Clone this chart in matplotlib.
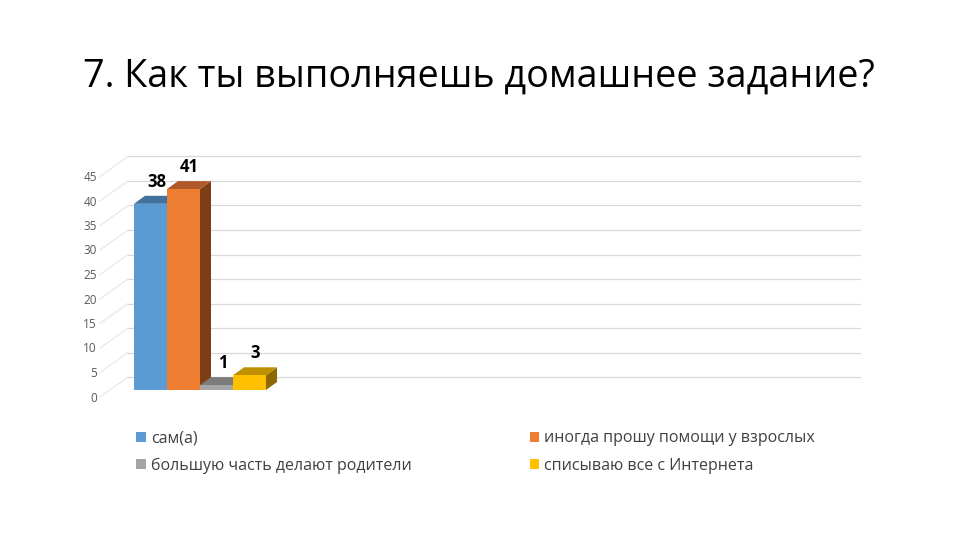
import matplotlib.pyplot as plt
from matplotlib.patches import Polygon, Patch

plt.rcParams['font.family'] = ['Open Sans', 'DejaVu Sans']

title = '7. Как ты выполняешь домашнее задание?'
categories = ['сам(а)', 'иногда прошу помощи у взрослых',
              'большую часть делают родители', 'списываю все с Интернета']
values = [38, 41, 1, 3]
yticks = [0, 5, 10, 15, 20, 25, 30, 35, 40, 45]

front = ['#5B9BD5', '#ED7D31', '#A5A5A5', '#FFC000']
top = ['#41719C', '#B0582A', '#7C7C7C', '#BF9000']
side = ['#2E5C85', '#7E3D14', '#606060', '#8C6A00']

fig = plt.figure(figsize=(9.6, 5.4), dpi=100)
fig.patch.set_facecolor('white')

# plot area: value 0 at pixel y=390, 50 at y=145; x from 134 to 860 px
px_x = 33.0            # pixels per x unit (one bar width)
px_y = 245.0 / 50      # pixels per value unit
ax = fig.add_axes([134 / 960, 150 / 540, 726 / 960, 245 / 540])
ax.set_xlim(0, 726 / px_x)
ax.set_ylim(0, 50)
ax.axis('off')

# depth offsets
bdx, bdy = 11 / px_x, 8 / px_y        # bar depth
wdy = 13 / px_y                       # back wall offset
wx0 = -6 / px_x                       # back wall left edge
lx = -34 / px_x                       # front-left edge

for v in yticks:
    ax.plot([wx0, 726 / px_x], [v + wdy, v + wdy], color='#D9D9D9', lw=0.9,
            clip_on=False, zorder=1)
    ax.plot([lx, wx0], [v + wdy - 20 / px_y, v + wdy], color='#E6E6E6', lw=0.8,
            clip_on=False, zorder=1)
    ax.text(-37 / px_x, v + wdy - 21 / px_y, str(v), ha='right', va='center',
            fontsize=8.5, color='#595959')

for i, v in enumerate(values):
    x0, x1 = i, i + 1
    ax.add_patch(Polygon([(x1, 0), (x1 + bdx, bdy), (x1 + bdx, v + bdy), (x1, v)],
                         closed=True, facecolor=side[i], edgecolor='none', zorder=2 + i))
    ax.add_patch(Polygon([(x0, v), (x0 + bdx, v + bdy), (x1 + bdx, v + bdy), (x1, v)],
                         closed=True, facecolor=top[i], edgecolor='none', zorder=2 + i))
    ax.bar(x0 + 0.5, v, width=1, color=front[i], zorder=2 + i)
    ax.text(x0 + 0.5 + 6 / px_x, v + 22 / px_y, str(v), ha='center', va='center',
            fontsize=12, fontweight='bold', color='black', zorder=10)

fig.text(83 / 960, 1 - 87 / 540, title, fontsize=27.2, color='black',
         ha='left', va='baseline')

order = [0, 2, 1, 3]
handles = [Patch(facecolor=front[k], edgecolor='none') for k in order]
labels = [categories[k] for k in order]
fig.legend(handles, labels, ncol=2, loc='upper left',
           bbox_to_anchor=(122 / 960, 1 - 416 / 540), frameon=False,
           fontsize=11.5, labelcolor='#404040', handlelength=0.6, handleheight=0.6,
           handletextpad=0.3, columnspacing=7.4, labelspacing=0.7)

fig.savefig('out.png', dpi=100)
